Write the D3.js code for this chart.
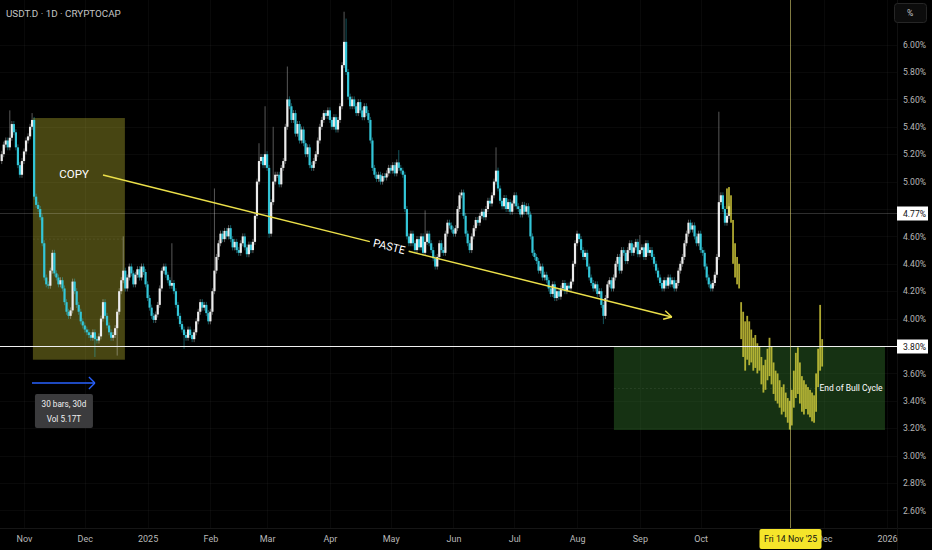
<!DOCTYPE html>
<html>
<head>
<meta charset="utf-8">
<script src="https://cdn.jsdelivr.net/npm/d3@7"></script>
<style>
  html, body { margin: 0; padding: 0; background: #000; }
  svg { display: block; font-family: Roboto, "Liberation Sans", sans-serif; }
</style>
</head>
<body>
<div id="chart"></div>
<script>
// day offsets are counted from 1 Nov 2024, one bar per day
const firstDay = -11;
const firstOpen = 5.15;
const closes = [
  5.20,5.27,5.30,5.25,5.32,5.42,5.36,5.25,5.12,5.05,
  5.15,5.22,5.30,5.33,5.40,5.45,4.89,4.83,4.80,4.74,
  4.55,4.30,4.25,4.24,4.35,4.48,4.33,4.30,4.25,4.28,
  4.22,4.12,4.05,4.02,4.06,4.27,4.20,4.10,4.05,3.98,
  3.95,3.92,3.90,3.88,3.86,3.90,3.85,3.84,3.87,4.00,
  4.12,4.02,3.95,3.90,3.86,3.88,3.93,4.05,4.20,4.28,
  4.35,4.22,4.30,4.38,4.33,4.25,4.32,4.36,4.30,4.38,
  4.34,4.25,4.15,4.08,4.02,3.99,4.03,4.10,4.22,4.35,
  4.38,4.32,4.28,4.24,4.26,4.20,4.10,4.02,3.96,3.92,
  3.88,3.86,3.92,3.88,3.85,3.90,3.98,4.05,4.12,4.08,
  4.10,4.04,3.98,4.05,4.20,4.35,4.45,4.55,4.62,4.58,
  4.64,4.60,4.66,4.58,4.52,4.56,4.50,4.48,4.55,4.60,
  4.52,4.47,4.54,4.50,4.56,4.75,5.00,5.15,5.18,5.12,
  5.20,5.10,4.62,4.85,5.00,5.05,5.05,4.98,5.10,5.15,
  5.40,5.60,5.55,5.45,5.50,5.35,5.42,5.30,5.38,5.28,
  5.20,5.25,5.12,5.10,5.15,5.20,5.30,5.40,5.45,5.50,
  5.48,5.52,5.45,5.40,5.47,5.38,5.45,5.55,5.85,6.02,
  5.80,5.62,5.55,5.60,5.55,5.50,5.58,5.52,5.47,5.55,
  5.50,5.45,5.30,5.10,5.05,5.02,5.05,5.00,5.04,5.03,
  5.06,5.10,5.08,5.12,5.06,5.14,5.10,5.08,5.05,4.80,
  4.60,4.55,4.62,4.55,4.50,4.58,4.52,4.60,4.48,4.56,
  4.62,4.55,4.50,4.44,4.38,4.45,4.55,4.50,4.48,4.62,
  4.70,4.68,4.65,4.62,4.66,4.80,4.90,4.92,4.75,4.62,
  4.55,4.50,4.60,4.66,4.72,4.70,4.75,4.78,4.74,4.80,
  4.86,4.84,4.90,5.00,5.08,4.95,4.86,4.82,4.88,4.80,
  4.85,4.78,4.84,4.90,4.82,4.80,4.76,4.83,4.78,4.82,
  4.76,4.60,4.48,4.45,4.42,4.35,4.38,4.30,4.32,4.28,
  4.22,4.18,4.25,4.15,4.20,4.16,4.22,4.26,4.20,4.24,
  4.22,4.27,4.40,4.55,4.62,4.58,4.50,4.45,4.48,4.38,
  4.30,4.26,4.22,4.25,4.18,4.20,4.10,4.02,4.15,4.25,
  4.28,4.22,4.30,4.40,4.45,4.35,4.50,4.48,4.42,4.50,
  4.55,4.48,4.52,4.56,4.47,4.50,4.52,4.45,4.55,4.48,
  4.50,4.45,4.40,4.35,4.30,4.26,4.22,4.28,4.24,4.30,
  4.25,4.28,4.22,4.26,4.35,4.40,4.45,4.55,4.62,4.70,
  4.65,4.68,4.60,4.55,4.62,4.50,4.48,4.38,4.30,4.25,
  4.22,4.26,4.32,4.45,4.85,4.90,4.80,4.70,4.75,4.82
];
// longer wicks worth drawing: [day, high, low]
const wicks = [
  [-7, 5.52, null], [4, 5.50, null], [35, null, 3.72], [46, null, 3.73],
  [49, 4.60, null], [73, 4.55, null], [79, null, 3.78], [94, 4.95, null],
  [116, 5.28, null], [119, 5.55, null], [121, null, 4.59], [123, 5.40, null],
  [130, 5.84, null], [158, 6.24, null], [159, 6.19, null], [185, 5.23, null],
  [198, 4.79, null], [233, 5.25, null], [274, 4.60, null], [286, null, 3.96],
  [304, 4.61, null], [343, 5.51, null]
];
// pasted bar pattern (yellow HL bars)
const projStart = 347;
const projHigh = [
  4.95,4.96,4.90,4.72,4.55,4.45,4.40,4.12,4.05,3.98,
  4.02,3.98,3.92,3.86,3.88,3.82,3.80,3.72,3.66,3.70,
  3.78,3.86,3.80,3.68,3.62,3.60,3.55,3.50,3.52,3.46,
  3.42,3.40,3.48,3.62,3.75,3.79,3.68,3.58,3.55,3.52,
  3.50,3.48,3.46,3.44,3.60,3.78,4.10,3.85
];
const projLow = [
  4.80,4.76,4.70,4.40,4.30,4.25,4.22,3.85,3.72,3.62,
  3.70,3.66,3.68,3.62,3.64,3.60,3.62,3.52,3.46,3.48,
  3.55,3.58,3.52,3.45,3.40,3.38,3.35,3.30,3.32,3.28,
  3.24,3.19,3.22,3.35,3.42,3.45,3.38,3.32,3.30,3.34,
  3.30,3.28,3.25,3.24,3.32,3.50,3.62,3.65
];
const priceTicks = [2.6,2.8,3.0,3.2,3.4,3.6,3.8,4.0,4.2,4.4,4.6,4.8,5.0,5.2,5.4,5.6,5.8,6.0];
const hiddenTicks = [4.8];
const timeTicks = ["2024-11-01","2024-12-01","2025-01-01","2025-02-01","2025-03-01","2025-04-01","2025-05-01",
  "2025-06-01","2025-07-01","2025-08-01","2025-09-01","2025-10-01","2025-12-01","2026-01-01"];
const timeLabels = ["Nov","Dec","2025","Feb","Mar","Apr","May","Jun","Jul","Aug","Sep","Oct","Dec","2026"];
const levelLine = 3.80;
const crossPrice = 4.77;
const crossDate = "2025-11-14";

const width = 932, height = 550;
const plotRight = 897, axisTop = 528;

const day0 = Date.UTC(2024, 10, 1);
const dayDate = d => new Date(day0 + d * 864e5);

const x = d3.scaleUtc()
  .domain([new Date(day0), new Date(Date.UTC(2026, 0, 1))])
  .range([24, 887]);
const y = d3.scaleLinear().domain([2.6, 6.0]).range([510.4, 44.6]);
const X = d => x(dayDate(d));

const svg = d3.select('#chart').append('svg')
  .attr('width', width)
  .attr('height', height);

svg.append('rect').attr('width', width).attr('height', height).attr('fill', '#000');

// faint grid
const grid = svg.append('g').attr('stroke', 'rgba(255,255,255,0.035)');
grid.selectAll('line.h').data(priceTicks).enter().append('line')
  .attr('x1', 0).attr('x2', plotRight)
  .attr('y1', d => Math.round(y(d)) + 0.5).attr('y2', d => Math.round(y(d)) + 0.5);
grid.selectAll('line.v').data(timeTicks).enter().append('line')
  .attr('x1', d => Math.round(x(new Date(d))) + 0.5).attr('x2', d => Math.round(x(new Date(d))) + 0.5)
  .attr('y1', 0).attr('y2', axisTop);

// copy zone
svg.append('rect')
  .attr('x', X(4.4)).attr('y', y(5.464))
  .attr('width', X(49.8) - X(4.4)).attr('height', y(3.70) - y(5.464))
  .attr('fill', 'rgba(235,228,60,0.30)');
svg.append('line')
  .attr('x1', X(4.4)).attr('x2', X(49.8))
  .attr('y1', y(4.58)).attr('y2', y(4.58))
  .attr('stroke', 'rgba(255,255,255,0.08)').attr('stroke-dasharray', '2,2');

// target zone
svg.append('rect')
  .attr('x', X(291.2)).attr('y', y(3.80))
  .attr('width', X(425) - X(291.2)).attr('height', y(3.187) - y(3.80))
  .attr('fill', 'rgba(62,138,52,0.36)');
svg.append('line')
  .attr('x1', X(291.2)).attr('x2', X(425))
  .attr('y1', y(3.49)).attr('y2', y(3.49))
  .attr('stroke', 'rgba(255,255,255,0.08)').attr('stroke-dasharray', '2,2');

// candles
const candles = closes.map((c, i) => {
  const day = firstDay + i;
  const o = i === 0 ? firstOpen : closes[i - 1];
  const w = wicks.find(k => k[0] === day);
  return {day, o, c, hi: w && w[1] != null ? w[1] : null, lo: w && w[2] != null ? w[2] : null};
});
const upCol = '#ececec', dnCol = '#33c6d8';

const cg = svg.append('g');
cg.selectAll('line').data(candles).enter().append('line')
  .attr('x1', d => X(d.day)).attr('x2', d => X(d.day))
  .attr('y1', d => d.hi != null ? y(d.hi) : y(Math.max(d.o, d.c)) - 3)
  .attr('y2', d => d.lo != null ? y(d.lo) : y(Math.min(d.o, d.c)) + 3)
  .attr('stroke', d => d.c >= d.o ? 'rgba(220,220,220,0.5)' : 'rgba(46,196,214,0.55)')
  .attr('stroke-width', 0.8);
cg.selectAll('rect').data(candles).enter().append('rect')
  .attr('x', d => X(d.day) - 1.1)
  .attr('width', 2.2)
  .attr('y', d => y(Math.max(d.o, d.c)))
  .attr('height', d => Math.max(1, Math.abs(y(d.o) - y(d.c))))
  .attr('fill', d => d.c >= d.o ? upCol : dnCol);

// pasted pattern
svg.append('g').selectAll('rect').data(projHigh).enter().append('rect')
  .attr('x', (d, i) => X(projStart + i) - 0.9)
  .attr('width', 1.8)
  .attr('y', d => y(d))
  .attr('height', (d, i) => y(projLow[i]) - y(d))
  .attr('fill', 'rgba(222,214,62,0.78)');

// level and crosshair lines
svg.append('line')
  .attr('x1', 0).attr('x2', plotRight)
  .attr('y1', Math.round(y(crossPrice)) + 0.5).attr('y2', Math.round(y(crossPrice)) + 0.5)
  .attr('stroke', 'rgba(255,255,255,0.18)');
svg.append('line')
  .attr('x1', 0).attr('x2', plotRight)
  .attr('y1', Math.round(y(levelLine)) + 0.5).attr('y2', Math.round(y(levelLine)) + 0.5)
  .attr('stroke', '#f0f0f0').attr('stroke-width', 1.2);
const cx = Math.round(x(new Date(crossDate))) + 0.5;
svg.append('line')
  .attr('x1', cx).attr('x2', cx).attr('y1', 0).attr('y2', axisTop)
  .attr('stroke', 'rgba(215,205,110,0.6)');

// copy -> paste arrow
const a0 = [X(39), y(5.048)], a1 = [X(319.8), y(4.012)];
const ang = Math.atan2(a1[1] - a0[1], a1[0] - a0[0]);
const len = Math.hypot(a1[0] - a0[0], a1[1] - a0[1]);
const pt = t => [a0[0] + Math.cos(ang) * t, a0[1] + Math.sin(ang) * t];
const gapMid = 295, gapHalf = 20;
const yel = '#ece04a';
[[0, gapMid - gapHalf], [gapMid + gapHalf, len]].forEach(([t0, t1]) => {
  svg.append('line')
    .attr('x1', pt(t0)[0]).attr('y1', pt(t0)[1])
    .attr('x2', pt(t1)[0]).attr('y2', pt(t1)[1])
    .attr('stroke', yel).attr('stroke-width', 1.4);
});
[-1, 1].forEach(s => {
  const b = ang + Math.PI - s * 0.5;
  svg.append('line')
    .attr('x1', a1[0]).attr('y1', a1[1])
    .attr('x2', a1[0] + Math.cos(b) * 9).attr('y2', a1[1] + Math.sin(b) * 9)
    .attr('stroke', yel).attr('stroke-width', 1.4);
});
const pm = pt(gapMid);
svg.append('text')
  .attr('transform', `translate(${pm[0]},${pm[1]}) rotate(${ang * 180 / Math.PI})`)
  .attr('text-anchor', 'middle').attr('dy', '0.35em')
  .attr('fill', '#fff').attr('font-size', 11)
  .text('PASTE');
svg.append('text')
  .attr('x', X(24.7)).attr('y', y(5.055))
  .attr('text-anchor', 'middle').attr('dy', '0.35em')
  .attr('fill', '#fff').attr('font-size', 11.5)
  .text('COPY');

svg.append('text')
  .attr('x', X(408.2)).attr('y', y(3.493))
  .attr('text-anchor', 'middle').attr('dy', '0.35em')
  .attr('fill', '#fff').attr('font-size', 8.5)
  .text('End of Bull Cycle');

// date range measure
const by = y(3.53);
const bx0 = X(3.95), bx1 = X(35);
svg.append('line').attr('x1', bx0).attr('x2', bx1).attr('y1', by).attr('y2', by)
  .attr('stroke', '#2962ff').attr('stroke-width', 1.3);
[-1, 1].forEach(s => {
  svg.append('line').attr('x1', bx1).attr('y1', by)
    .attr('x2', bx1 - 6).attr('y2', by + s * 6)
    .attr('stroke', '#2962ff').attr('stroke-width', 1.3);
});
const tipX = (bx0 + bx1) / 2 + 0.5;
svg.append('rect').attr('x', tipX - 29).attr('y', by + 11).attr('width', 58).attr('height', 34)
  .attr('rx', 2).attr('fill', '#3b3b3d');
svg.append('text').attr('x', tipX).attr('y', by + 24).attr('text-anchor', 'middle')
  .attr('fill', '#f0f0f0').attr('font-size', 8.2).text('30 bars, 30d');
svg.append('text').attr('x', tipX).attr('y', by + 39).attr('text-anchor', 'middle')
  .attr('fill', '#f0f0f0').attr('font-size', 8.2).text('Vol 5.17T');

// axes
svg.append('line').attr('x1', 0).attr('x2', width).attr('y1', axisTop + 0.5).attr('y2', axisTop + 0.5)
  .attr('stroke', '#161616');
svg.append('line').attr('x1', plotRight + 0.5).attr('x2', plotRight + 0.5).attr('y1', 0).attr('y2', height)
  .attr('stroke', '#101010');

const yAxis = svg.append('g')
  .attr('transform', `translate(${plotRight},0)`)
  .call(d3.axisRight(y).tickValues(priceTicks.filter(t => !hiddenTicks.includes(t)))
    .tickSize(0).tickPadding(6).tickFormat(d => d.toFixed(2) + '%'));
yAxis.select('.domain').remove();
yAxis.selectAll('text').attr('fill', '#b8b8b8').attr('font-size', 8.6).attr('font-family', 'Roboto, sans-serif');

const xAxis = svg.append('g')
  .attr('transform', `translate(0,${axisTop})`)
  .call(d3.axisBottom(x).tickValues(timeTicks.map(d => new Date(d)))
    .tickSize(0).tickPadding(8).tickFormat((d, i) => timeLabels[i]));
xAxis.select('.domain').remove();
xAxis.selectAll('text').attr('fill', '#b8b8b8').attr('font-size', 9).attr('font-family', 'Roboto, sans-serif');

// price labels on scale
[[levelLine, levelLine.toFixed(2) + '%'], [crossPrice, crossPrice.toFixed(2) + '%']].forEach(([v, t]) => {
  const yy = Math.round(y(v)) + 0.5;
  svg.append('rect').attr('x', plotRight).attr('y', yy - 7).attr('width', 31).attr('height', 14)
    .attr('fill', '#fff');
  svg.append('text').attr('x', plotRight + 6).attr('y', yy).attr('dy', '0.35em')
    .attr('fill', '#111').attr('font-size', 8.6).text(t);
});

// crosshair date label
svg.append('rect').attr('x', cx - 31).attr('y', axisTop + 1).attr('width', 62).attr('height', 20)
  .attr('rx', 2).attr('fill', '#f5e52a');
svg.append('text').attr('x', cx).attr('y', axisTop + 11).attr('dy', '0.35em').attr('text-anchor', 'middle')
  .attr('fill', '#111').attr('font-size', 8.8).text("Fri 14 Nov '25");

// header
svg.append('text').attr('x', 6).attr('y', 16.5)
  .attr('fill', '#c4c4c4').attr('font-size', 9.8)
  .text('USDT.D · 1D · CRYPTOCAP');
svg.append('rect').attr('x', 894.5).attr('y', 3.5).attr('width', 32).attr('height', 19).attr('rx', 3)
  .attr('fill', '#0c0c0c').attr('stroke', '#262626');
svg.append('text').attr('x', 907).attr('y', 13).attr('dy', '0.35em')
  .attr('fill', '#c4c4c4').attr('font-size', 8.5).text('%');
</script>
</body>
</html>
